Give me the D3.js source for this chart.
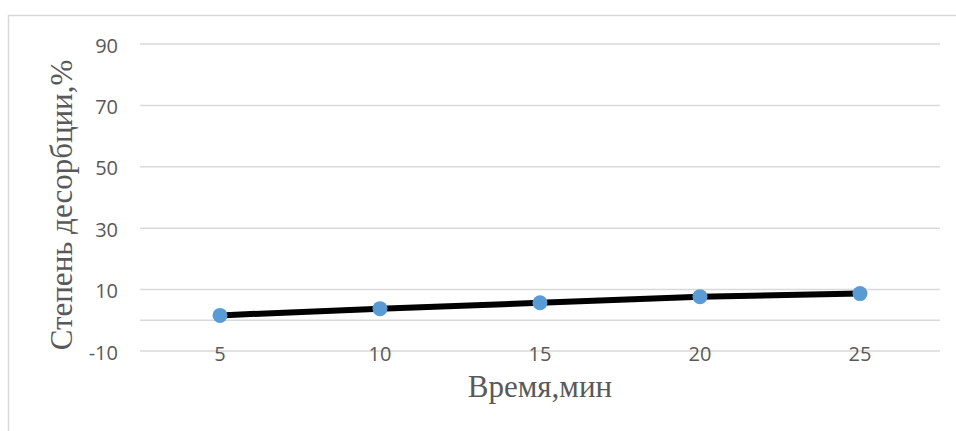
<!DOCTYPE html>
<html><head><meta charset="utf-8">
<script src="https://cdn.jsdelivr.net/npm/d3@7/dist/d3.min.js"></script>
<style>body{margin:0;background:#fff}svg{display:block}</style>
</head><body>
<script>
const categories = ["5","10","15","20","25"];
const values = [1.6, 3.8, 5.7, 7.7, 8.7];
const yTicks = [-10, 10, 30, 50, 70, 90];
const gridValues = [-10, 0, 10, 30, 50, 70, 90];
const xTitle = "Время,мин";
const yTitle = "Степень десорбции,%";

const W = 956, H = 431;
const svg = d3.select("body").append("svg").attr("width", W).attr("height", H);

// chart border (top and left visible)
svg.append("path").attr("d", "M8.5,431 V15.5 H956").attr("fill", "none")
  .attr("stroke", "#d9d9d9").attr("stroke-width", 1.5);

const x = d3.scaleBand().domain(categories).range([140, 940]);
const y = d3.scaleLinear().domain([-10, 90]).range([351, 44]);

svg.append("g").selectAll("line").data(gridValues).join("line")
  .attr("x1", 140).attr("x2", 940)
  .attr("y1", d => y(d)).attr("y2", d => y(d))
  .attr("stroke", "#d9d9d9").attr("stroke-width", 1.5);

const yAxis = d3.axisLeft(y).tickValues(yTicks).tickFormat(d => String(d)).tickSize(0).tickPadding(0);
const gy = svg.append("g").attr("transform", "translate(118,0)").call(yAxis);
gy.select(".domain").remove();
gy.selectAll("text").attr("font-family", "Open Sans, sans-serif").attr("font-size", 20)
  .attr("fill", "#595959").attr("dy", "0.4em");

const xAxis = d3.axisBottom(x).tickSize(0).tickPadding(0);
const gx = svg.append("g").attr("transform", "translate(0,361)").call(xAxis);
gx.select(".domain").remove();
gx.selectAll("text").attr("font-family", "Open Sans, sans-serif").attr("font-size", 20)
  .attr("fill", "#595959").attr("y", 0).attr("dy", "0");

const line = d3.line().x((d, i) => x(categories[i]) + x.bandwidth() / 2).y(d => y(d));
svg.append("path").datum(values).attr("d", line).attr("fill", "none")
  .attr("stroke", "#000").attr("stroke-width", 6).attr("stroke-linecap", "round");

svg.append("g").selectAll("circle").data(values).join("circle")
  .attr("cx", (d, i) => x(categories[i]) + x.bandwidth() / 2).attr("cy", d => y(d))
  .attr("r", 7.5).attr("fill", "#5b9bd5");

svg.append("text").attr("x", 540).attr("y", 397).attr("text-anchor", "middle")
  .attr("font-family", "Liberation Serif, serif").attr("font-size", 31).attr("fill", "#595959")
  .text(xTitle);

svg.append("text").attr("transform", "translate(72,205) rotate(-90)").attr("text-anchor", "middle")
  .attr("font-family", "Liberation Serif, serif").attr("font-size", 31).attr("fill", "#595959")
  .text(yTitle);
</script>
</body></html>
